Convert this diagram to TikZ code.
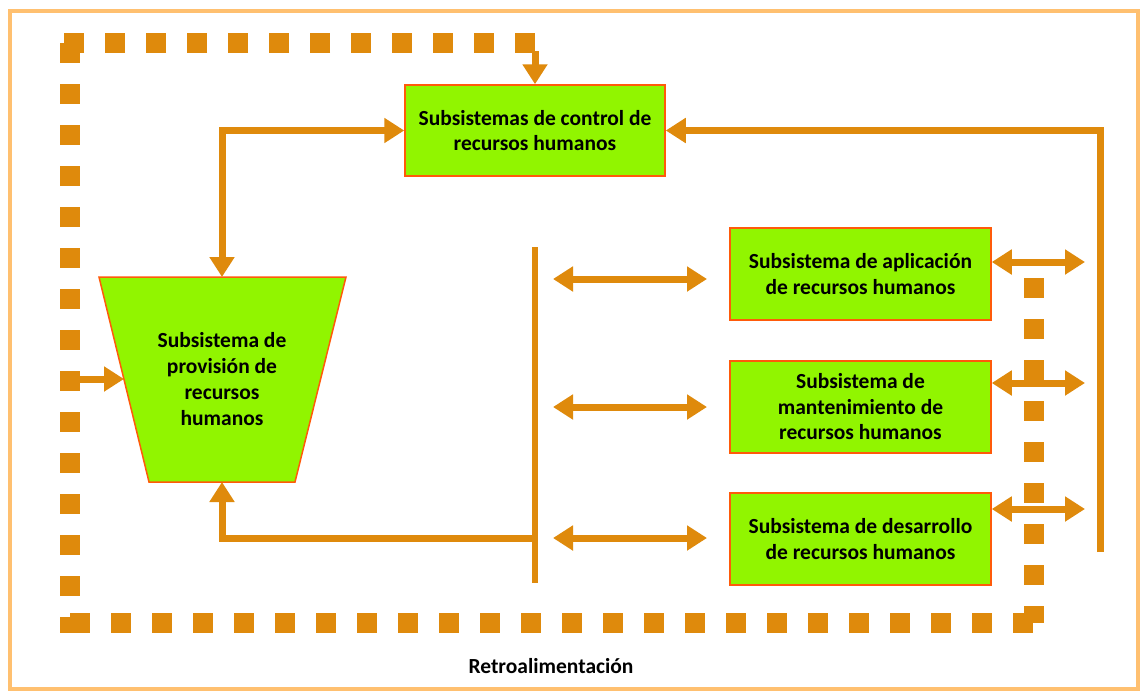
\documentclass[tikz,border=0pt]{standalone}
\usepackage{fontspec}
\setmainfont{Carlito}
\usetikzlibrary{arrows.meta,calc}
\definecolor{acol}{RGB}{223,138,12}
\definecolor{gfill}{RGB}{145,245,0}
\definecolor{gline}{RGB}{255,90,10}
\definecolor{frame}{RGB}{255,192,112}
\tikzset{
  box/.style={draw=gline, line width=1.5pt, fill=gfill, align=center, inner sep=2pt,
    font=\fontsize{21.5pt}{25.5pt}\selectfont\bfseries},
  lbl/.style={align=center, font=\fontsize{21.5pt}{26pt}\selectfont\bfseries},
  arr/.style={draw=acol, line width=7pt, line join=miter, -{Triangle[length=20pt,width=24pt]}},
  darr/.style={draw=acol, line width=7pt, line join=miter, {Triangle[length=20pt,width=24pt]}-{Triangle[length=20pt,width=24pt]}},
  dots/.style={draw=acol, line width=20pt, dash pattern=on 20pt off 21pt},
  bar/.style={draw=acol, line width=6pt}
}
\begin{document}
\begin{tikzpicture}[x=1pt,y=-1pt]
\useasboundingbox (0,0) rectangle (1141,691);
\fill[white] (0,0) rectangle (1141,691);
\draw[frame, line width=4pt] (9.5,11) rectangle (1137.5,688.5);

% feedback dotted path coordinates
\coordinate (fR1) at (1034,278);
\coordinate (fR2) at (1034,623);
\coordinate (fB1) at (70,623);
\coordinate (fL1) at (70,633);
\coordinate (fL2) at (70,43);
\coordinate (fT1) at (62,43);
\coordinate (fT2) at (535,43);
\coordinate (fIn) at (70,379);
\coordinate (fInT) at (124,379);

% nodes
\node[box, minimum width=260pt, minimum height=91pt] (ctrl) at (535,130.5) {Subsistemas de control de\\recursos humanos};
\node[box, minimum width=261pt, minimum height=92pt] (apl) at (860.5,274) {Subsistema de aplicación\\de recursos humanos};
\node[box, minimum width=261pt, minimum height=92pt] (man) at (860.5,407) {Subsistema de\\mantenimiento de\\recursos humanos};
\node[box, minimum width=261pt, minimum height=92pt] (des) at (860.5,539) {Subsistema de desarrollo\\de recursos humanos};

% trapezoid
\coordinate (pTL) at (99,277);
\coordinate (pTR) at (346,277);
\coordinate (pBR) at (295,482);
\coordinate (pBL) at (149,482);
\filldraw[fill=gfill, draw=gline, line width=1.5pt] (pTL) -- (pTR) -- (pBR) -- (pBL) -- cycle;
\node[lbl] (prov) at (222,379) {Subsistema de\\provisión de\\recursos\\humanos};
\coordinate (pTop) at (222,277);
\coordinate (pBot) at (222,482);

\node[lbl] (retro) at (551,666) {Retroalimentación};

% dotted feedback
\draw[dots] (fT2) -- (fT1);
\draw[dots] (fL2) -- (fL1);
\draw[dots] (fB1) -- (fR2);
\draw[dots] (fR1) -- (fR2);
\draw[arr] ($(fT2)+(0,8)$) -- (ctrl.north);
\draw[arr] (fIn) -- (fInT);

% bar
\coordinate (barT) at (535,247);
\coordinate (barB) at (535,583);
\draw[bar] (barT) -- (barB);

% control links
\coordinate (cL) at (222,130.5);
\draw[darr] (ctrl.west) -- (cL) -- (pTop);
\coordinate (rB) at (1100,552);
\coordinate (rT) at (1100,130.5);
\draw[arr] (rB) -- (rT) -- (ctrl.east);

% bottom feedback to provision
\coordinate (bB) at (535,538);
\coordinate (bC) at (222,538);
\draw[arr] (bB) -- (bC) -- (pBot);

% double arrows from bar to boxes
\coordinate (l1a) at (553,279); \coordinate (l1b) at (707,279);
\coordinate (l2a) at (553,407); \coordinate (l2b) at (707,407);
\coordinate (l3a) at (553,538); \coordinate (l3b) at (707,538);
\draw[darr] (l1a) -- (l1b);
\draw[darr] (l2a) -- (l2b);
\draw[darr] (l3a) -- (l3b);

% double arrows on right
\coordinate (r1) at (1085,262);
\coordinate (r2) at (1085,383);
\coordinate (r3) at (1085,509);
\draw[darr] (apl.east |- r1) -- (r1);
\draw[darr] (man.east |- r2) -- (r2);
\draw[darr] (des.east |- r3) -- (r3);
\end{tikzpicture}
\end{document}
